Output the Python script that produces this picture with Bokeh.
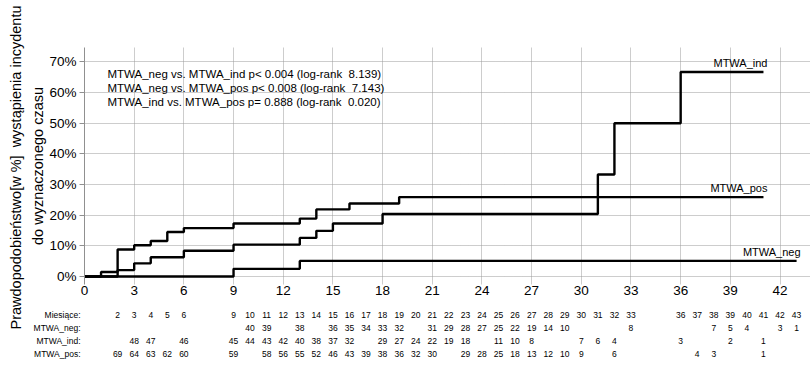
import math
from bokeh.plotting import figure
from bokeh.layouts import row, column
from bokeh.models import (Label, ColumnDataSource, FixedTicker,
                          PrintfTickFormatter, Range1d)
from bokeh.core.properties import value
from bokeh.embed import file_html
from bokeh.resources import INLINE

FONT = "Liberation Sans"
NBSP = "\u00a0"

# Cumulative incidence (%) step curves: event times in months and levels
neg_t = [0, 9, 13, 43]
neg_v = [0, 2.5, 5.1, 5.1]

ind_t = [0, 2, 3, 4, 6, 9, 13, 14, 15, 18, 31, 32, 36, 41]
ind_v = [0, 2.1, 4.3, 6.3, 8.4, 10.4, 12.6, 14.9, 17.3, 20.4, 33.3, 50.0, 66.7, 66.7]

pos_t = [0, 1, 2, 3, 4, 5, 6, 9, 13, 14, 16, 19, 41]
pos_v = [0, 1.5, 8.8, 10.2, 11.6, 14.5, 15.8, 17.3, 18.9, 21.9, 23.8, 25.9, 25.9]

# Numbers at risk table
months = [2, 3, 4, 5, 6, 9, 10, 11, 12, 13, 14, 15, 16, 17, 18, 19, 20, 21, 22,
          23, 24, 25, 26, 27, 28, 29, 30, 31, 32, 33, 36, 37, 38, 39, 40, 41, 42, 43]
risk_neg = [None, None, None, None, None, None, 40, 39, None, 38, None, 36, 35, 34, 33, 32, None, 31, 29,
            28, 27, 25, 22, 19, 14, 10, None, None, None, 8, None, None, 7, 5, 4, None, 3, 1]
risk_ind = [None, 48, 47, None, 46, 45, 44, 43, 42, 40, 38, 37, 32, None, 29, 27, 24, 22, 19,
            18, None, 11, 10, 8, None, None, 7, 6, 4, None, 3, None, None, 2, None, 1, None, None]
risk_pos = [69, 64, 63, 62, 60, 59, None, 58, 56, 55, 52, 46, 43, 39, 38, 36, 32, 30, None,
            29, 28, 25, 18, 13, 12, 10, 9, None, 6, None, None, 4, 3, None, None, 1, None, None]
row_names = ["Miesiące:", "MTWA_neg:", "MTWA_ind:", "MTWA_pos:"]

stats_lines = [
    "MTWA_neg vs. MTWA_ind p< 0.004 (log-rank  8.139)",
    "MTWA_neg vs. MTWA_pos p< 0.008 (log-rank  7.143)",
    "MTWA_ind vs. MTWA_pos p= 0.888 (log-rank  0.020)",
]
title_line1 = "Prawdopodobieństwo[w %]  wystąpienia incydentu"
title_line2 = "do wyznaczonego czasu"

x_ticks = list(range(0, 43, 3))
y_ticks = list(range(0, 71, 10))


def keep_spaces(s):
    return s.replace("  ", NBSP + " ")


# ---- left strip holding the outer line of the vertical title ----
tfig = figure(width=26, height=381, output_backend="svg", toolbar_location=None,
              x_axis_location=None, y_axis_location=None,
              min_border=0, x_range=Range1d(0, 1), y_range=Range1d(0, 1))
tfig.outline_line_color = None
tfig.grid.visible = False
tfig.add_layout(Label(x=15, y=214, x_units="screen", y_units="screen",
                      text=keep_spaces(title_line1), angle=math.pi / 2,
                      text_align="center", text_baseline="middle",
                      text_font=FONT, text_font_size="14.5px", text_color="black"))

# ---- main chart ----
shared_x = Range1d(0, 43.84)
p = figure(width=784, height=301, output_backend="svg", toolbar_location=None,
           x_range=shared_x, y_range=Range1d(-2.6, 74.7),
           min_border_left=58, min_border_right=0, min_border_top=47,
           min_border_bottom=17)
p.outline_line_color = None

p.xaxis.ticker = FixedTicker(ticks=x_ticks)
p.yaxis.ticker = FixedTicker(ticks=y_ticks)
p.yaxis.formatter = PrintfTickFormatter(format="%d%%")
for ax in (p.xaxis[0], p.yaxis[0]):
    ax.major_label_text_font = FONT
    ax.major_label_text_font_size = "13.5px"
    ax.major_label_text_color = "black"
    ax.minor_tick_line_color = None
p.xaxis.axis_line_color = None
p.xaxis.major_tick_line_color = None
p.xaxis.major_tick_out = 0
p.xaxis.major_tick_in = 0
p.xaxis.major_label_standoff = 1
p.yaxis.axis_line_color = "#909090"
p.yaxis.major_tick_line_color = "#909090"
p.yaxis.major_tick_out = 5
p.yaxis.major_tick_in = 0
p.yaxis.major_label_standoff = 3
p.yaxis.axis_label = title_line2
p.yaxis.axis_label_text_font = FONT
p.yaxis.axis_label_text_font_size = "14.5px"
p.yaxis.axis_label_text_font_style = "normal"
p.yaxis.axis_label_text_color = "black"
p.yaxis.axis_label_standoff = 0

for g in (p.xgrid[0], p.ygrid[0]):
    g.grid_line_color = "#9a9a9a"
    g.grid_line_dash = "1 1"
    g.grid_line_width = 1

for t, v in ((neg_t, neg_v), (ind_t, ind_v), (pos_t, pos_v)):
    p.step(t, v, mode="after", line_color="black", line_width=2.4)

for name, t, v in (("MTWA_ind", ind_t, ind_v), ("MTWA_pos", pos_t, pos_v),
                   ("MTWA_neg", neg_t, neg_v)):
    p.add_layout(Label(x=t[-1], y=v[-1], text=name, text_align="right",
                       text_baseline="bottom", x_offset=4, y_offset=3,
                       text_font=FONT, text_font_size="11px", text_color="black"))

for i, line in enumerate(stats_lines):
    p.add_layout(Label(x=23, y=211 - 14 * i, x_units="screen", y_units="screen",
                       text=keep_spaces(line), text_align="left",
                       text_baseline="middle", text_font=FONT,
                       text_font_size="11.5px", text_color="black"))

# ---- numbers at risk table, sharing the month scale ----
tab = figure(width=784, height=80, output_backend="svg", toolbar_location=None,
             x_range=shared_x, y_range=Range1d(5.2, -1.1),
             x_axis_location=None, min_border_left=58, min_border_right=0,
             min_border_top=0, min_border_bottom=0)
tab.outline_line_color = None
tab.grid.visible = False
tab.yaxis.ticker = FixedTicker(ticks=list(range(len(row_names))))
tab.yaxis.major_label_overrides = {i: n for i, n in enumerate(row_names)}
tab.yaxis.axis_line_color = None
tab.yaxis.major_tick_line_color = None
tab.yaxis.minor_tick_line_color = None
tab.yaxis.major_tick_out = 0
tab.yaxis.major_label_standoff = 4
tab.yaxis.major_label_text_font = FONT
tab.yaxis.major_label_text_font_size = "8.5px"
tab.yaxis.major_label_text_color = "black"

tx, ty, tt = [], [], []
for r, vals in enumerate([months, risk_neg, risk_ind, risk_pos]):
    for m, v in zip(months, vals):
        if v is not None:
            tx.append(m)
            ty.append(r)
            tt.append(str(v))
tab.text(x="x", y="y", text="text", source=ColumnDataSource(dict(x=tx, y=ty, text=tt)),
         text_align="center", text_baseline="middle", text_font=value(FONT),
         text_font_size="8.5px", text_color="black")

layout = row(tfig, column(p, tab))
open("out.html", "w").write(file_html(layout, INLINE))
